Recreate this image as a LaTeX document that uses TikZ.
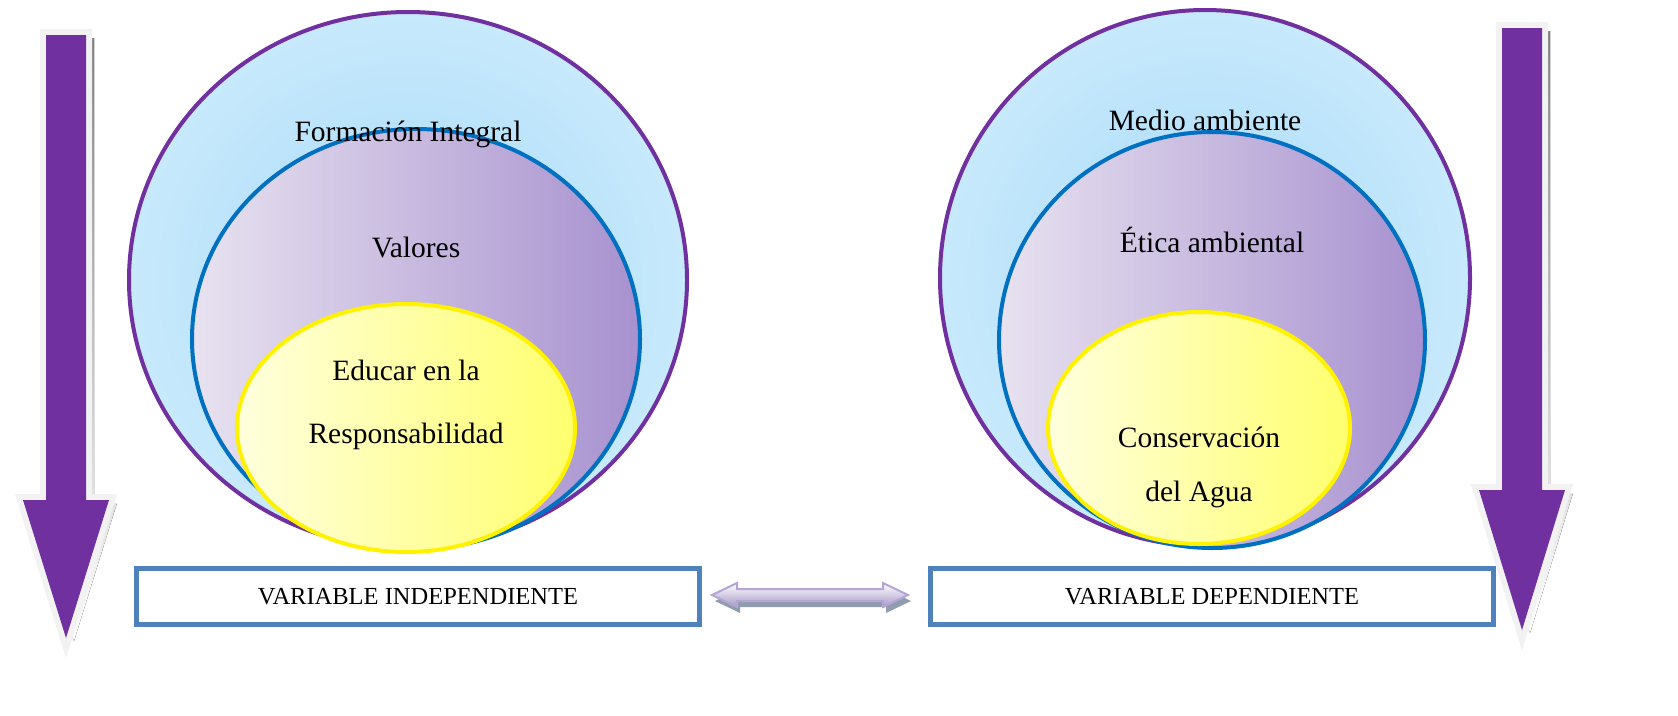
\documentclass[tikz,border=0pt]{standalone}
\usepackage{fontspec}
\setmainfont{Liberation Serif}
\definecolor{violet}{HTML}{7030A0}
\definecolor{ringblue}{HTML}{0070C0}
\definecolor{boxblue}{HTML}{4F81BD}
\definecolor{frame}{HTML}{F2F2F2}
\definecolor{shade}{HTML}{95A9C2}
\tikzset{
  outer/.style={draw=violet, line width=4pt, inner color={rgb,255:red,166;green,218;blue,248}, outer color={rgb,255:red,200;green,233;blue,252}},
  middle/.style={draw=ringblue, line width=4pt, left color={rgb,255:red,232;green,226;blue,240}, right color={rgb,255:red,167;green,145;blue,207}},
  inner/.style={draw=yellow, line width=4pt, left color={rgb,255:red,255;green,255;blue,222}, right color={rgb,255:red,255;green,255;blue,110}},
  label/.style={font=\fontsize{29.5}{63}\selectfont, align=center},
  varbox/.style={draw=boxblue, line width=5pt, fill=white, minimum width=563pt, minimum height=56pt, font=\fontsize{24.5}{28}\selectfont}
}
\begin{document}
\begin{tikzpicture}[x=1pt,y=-1pt]
\useasboundingbox (0,0) rectangle (1678,715);

% left group
\draw[outer] (408,280) ellipse [x radius=279pt, y radius=268pt];
\draw[middle] (416,339) ellipse [x radius=224pt, y radius=210pt];
\draw[inner] (406,428) ellipse [x radius=169pt, y radius=124pt];
\node[label] (formacion) at (408,134) {Formación Integral};
\node[label] (valores) at (416,247) {Valores};
\node[label] (educar) at (406,405) {Educar en la\\Responsabilidad};

% right group
\draw[outer] (1205,278) ellipse [x radius=265pt, y radius=268pt];
\draw[middle] (1212,340) ellipse [x radius=213pt, y radius=208pt];
\draw[inner] (1199,428) ellipse [x radius=151pt, y radius=116pt];
\node[label] (medio) at (1205,120) {Medio ambiente};
\node[label] (etica) at (1212,240) {Ética ambiental};
\node[label, font=\fontsize{29.5}{54}\selectfont] (agua) at (1199,467) {Conservación\\del Agua};

% variables
\node[varbox] (indep) at (418,596.5) {VARIABLE INDEPENDIENTE};
\node[varbox] (dep) at (1212,596.5) {VARIABLE DEPENDIENTE};

% double arrow between the boxes
\fill[shade!70!gray, shift={(3,6)}] (712,595) -- (737,583) -- (737,589) -- (883,589) -- (883,583)
  -- (908,595) -- (883,607) -- (883,601) -- (737,601) -- (737,607) -- cycle;
\draw[draw={rgb,255:red,180;green,165;blue,212}, line width=2pt, top color=white, bottom color={rgb,255:red,168;green,152;blue,200}]
  (712,595) -- (737,583) -- (737,589) -- (883,589) -- (883,583)
  -- (908,595) -- (883,607) -- (883,601) -- (737,601) -- (737,607) -- cycle;

% big arrows
\foreach \cx/\top/\base/\tip in {66/35/500/638, 1522/28/490/630}{
  \fill[shade, shift={(8,3)}] ({\cx-20},\top) -- ({\cx+20},\top) -- ({\cx+20},\base) -- ({\cx+43},\base)
    -- (\cx,\tip) -- ({\cx-43},\base) -- ({\cx-20},\base) -- cycle;
  \draw[frame, line width=12pt, fill=violet] ({\cx-20},\top) -- ({\cx+20},\top) -- ({\cx+20},\base) -- ({\cx+43},\base)
    -- (\cx,\tip) -- ({\cx-43},\base) -- ({\cx-20},\base) -- cycle;
  \fill[violet] ({\cx-20},\top) -- ({\cx+20},\top) -- ({\cx+20},\base) -- ({\cx+43},\base)
    -- (\cx,\tip) -- ({\cx-43},\base) -- ({\cx-20},\base) -- cycle;
}
\end{tikzpicture}
\end{document}
